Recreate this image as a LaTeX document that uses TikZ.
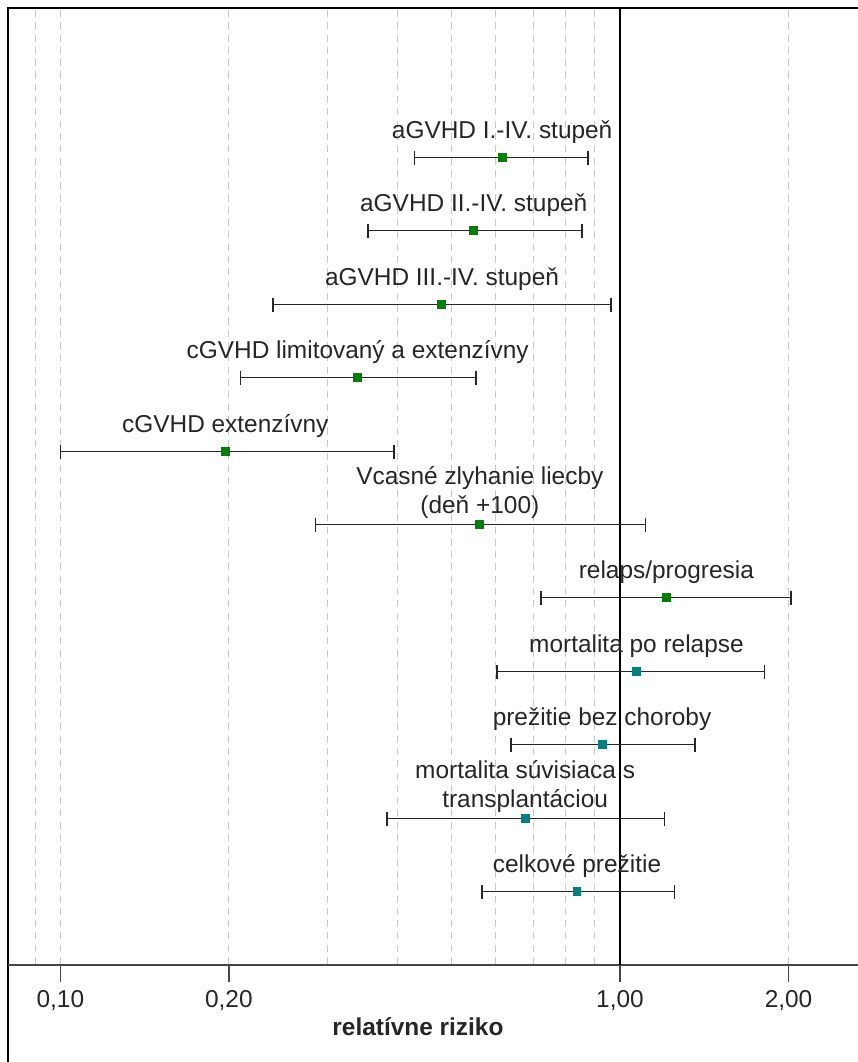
\documentclass[tikz,border=0pt]{standalone}
\usepackage{fontspec}
\setmainfont{Liberation Sans}

\definecolor{gvhdgreen}{RGB}{0,128,0}
\definecolor{survteal}{RGB}{0,128,128}
\definecolor{gridgray}{RGB}{200,200,200}
\definecolor{axisgray}{RGB}{70,70,70}

\begin{document}
\begin{tikzpicture}[x=0.02cm, y=-0.02cm,
		grid/.style={gridgray, line width=0.6pt, dash pattern=on 4pt off 3pt},
		whisker/.style={black!85, line width=0.85pt},
		est/.style={fill=#1, inner sep=0, minimum size=0.18cm},
		rowtext/.style={font=\fontsize{13.9}{16.5}\selectfont, text=black!85, align=center, anchor=base, inner sep=0}]
		\useasboundingbox (0,0) rectangle (858,1062);
		% grid
		\foreach \v in {0.09, 0.1, 0.2, 0.3, 0.4, 0.5, 0.6, 0.7, 0.8, 0.9, 2} {
			\pgfmathsetmacro{\gx}{620+560*log10(\v)}
			\draw[grid] (\gx,10) -- (\gx,965);
		}
		% frame and axis
		\draw[line width=1.5pt] (8,1062) -- (8,8) -- (858,8);
		\draw[axisgray, line width=0.8pt] (8,965) -- (858,965);
		\draw[black, line width=0.7pt] (620,8) -- (620,982);
		\foreach \v/\lab in {0.1/{0,10}, 0.2/{0,20}, 1/{1,00}, 2/{2,00}} {
			\pgfmathsetmacro{\gx}{620+560*log10(\v)}
			\draw[axisgray, line width=0.8pt] (\gx,965) -- (\gx,982);
			\node[rowtext, anchor=center] (tick\v) at (\gx,1001) {\lab};
		}
		\node[rowtext, anchor=center, font=\fontsize{13.9}{16.5}\selectfont\bfseries] (xtitle) at (418,1027) {relatívne riziko};
		% rows: lower / estimate / upper / colour / label offset / label
		\foreach \lo/\pt/\hi/\col/\dy/\txt [count=\i] in {
			0.430/0.616/0.877/gvhdgreen/19/{aGVHD I.-IV. stupeň},
			0.355/0.548/0.855/gvhdgreen/19/{aGVHD II.-IV. stupeň},
			0.240/0.481/0.964/gvhdgreen/19/{aGVHD III.-IV. stupeň},
			0.210/0.340/0.553/gvhdgreen/19/{cGVHD limitovaný a extenzívny},
			0.100/0.197/0.395/gvhdgreen/19/{cGVHD extenzívny},
			0.286/0.562/1.11/gvhdgreen/11/{Vcasné zlyhanie liecby\\(deň +100)},
			0.723/1.21/2.02/gvhdgreen/19/{relaps/progresia},
			0.603/1.07/1.81/survteal/19/{mortalita po relapse},
			0.639/0.929/1.36/survteal/19/{prežitie bez choroby},
			0.384/0.677/1.20/survteal/11/{mortalita súvisiaca s\\transplantáciou},
			0.567/0.838/1.25/survteal/19/{celkové prežitie}} {
			\pgfmathsetmacro{\yr}{round(157+73.4*(\i-1))+0.5}
			\pgfmathsetmacro{\xa}{620+560*log10(\lo)}
			\pgfmathsetmacro{\xb}{620+560*log10(\pt)}
			\pgfmathsetmacro{\xc}{620+560*log10(\hi)}
			\coordinate (lo\i) at (\xa,\yr);
			\coordinate (hi\i) at (\xc,\yr);
			\draw[whisker] (lo\i) -- (hi\i);
			\draw[whisker] (lo\i) ++(0,-7) -- ++(0,14);
			\draw[whisker] (hi\i) ++(0,-7) -- ++(0,14);
			\node[est=\col] (est\i) at (\xb,\yr) {};
			\node[rowtext] (lab\i) at (\xb,\yr-\dy) {\txt};
		}
	\end{tikzpicture}
\end{document}
